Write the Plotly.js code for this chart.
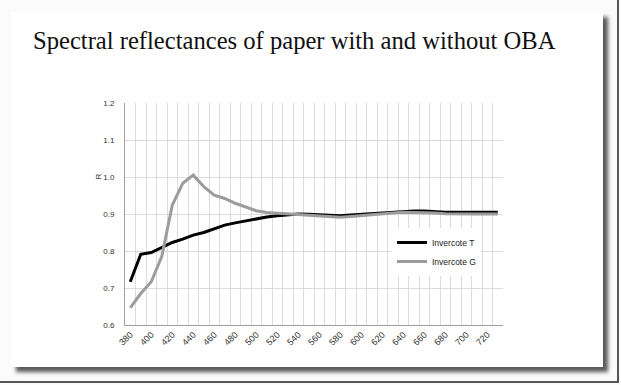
<!DOCTYPE html>
<html>
<head>
<meta charset="utf-8">
<script src="https://cdn.plot.ly/plotly-3.0.1.min.js"></script>
<style>
  html, body { margin: 0; padding: 0; background: #ffffff; }
  #wrap { position: relative; width: 621px; height: 385px; overflow: hidden; background: #fbfbfb; }
  #card { position: absolute; left: 11px; top: 12px; width: 592px; height: 355px; background: #ffffff;
          box-shadow: 5px 5px 4px rgba(0,0,0,0.65); }
  #edgeR { position: absolute; left: 617px; top: 0; width: 2px; height: 383px; background: #555; }
  #edgeB { position: absolute; left: 0; top: 381px; width: 619px; height: 2px; background: #555; }
  #chart { position: absolute; left: 0; top: 0; width: 621px; height: 385px; }
</style>
</head>
<body>
<div id="wrap">
  <div id="card"></div>
  <div id="edgeR"></div>
  <div id="edgeB"></div>
  <div id="chart"></div>
</div>
<script>
const wavelengths = [380,390,400,410,420,430,440,450,460,470,480,490,500,510,520,530,540,550,560,570,580,590,600,610,620,630,640,650,660,670,680,690,700,710,720,730];
const invercoteT = [0.717,0.791,0.796,0.809,0.823,0.832,0.843,0.850,0.861,0.870,0.876,0.882,0.888,0.892,0.895,0.898,0.900,0.899,0.898,0.896,0.895,0.897,0.899,0.902,0.904,0.906,0.907,0.908,0.908,0.906,0.905,0.905,0.905,0.905,0.905,0.905];
const invercoteG = [0.646,0.685,0.717,0.785,0.924,0.983,1.005,0.974,0.951,0.942,0.929,0.918,0.909,0.904,0.902,0.901,0.900,0.898,0.895,0.893,0.891,0.893,0.896,0.899,0.901,0.903,0.905,0.905,0.905,0.903,0.901,0.900,0.900,0.900,0.900,0.900];
const xTickVals = [380,400,420,440,460,480,500,520,540,560,580,600,620,640,660,680,700,720];
const yTickVals = [0.6,0.7,0.8,0.9,1.0,1.1,1.2];
const yTickText = ["0.6","0.7","0.8","0.9","1.0","1.1","1.2"];
const gridX = [];
for (let i = 0; i <= wavelengths.length; i++) gridX.push(375 + 10 * i);

const traces = [
  { x: wavelengths, y: invercoteT, type: 'scatter', mode: 'lines', name: 'Invercote T',
    line: { color: '#000000', width: 3 } },
  { x: wavelengths, y: invercoteG, type: 'scatter', mode: 'lines', name: 'Invercote G',
    line: { color: '#9c9c9c', width: 3 } }
];

const layout = {
  width: 621, height: 385,
  margin: { l: 125, r: 118, t: 103, b: 60 },
  paper_bgcolor: 'rgba(0,0,0,0)',
  plot_bgcolor: '#ffffff',
  showlegend: true,
  title: {
    text: 'Spectral reflectances of paper with and without OBA',
    font: { family: 'Liberation Serif', size: 24.6, color: '#111111' },
    x: 33 / 621, xanchor: 'left', xref: 'container',
    y: 1 - 40 / 385, yanchor: 'middle', yref: 'container'
  },
  xaxis: {
    range: [375, 735],
    tickvals: xTickVals,
    ticktext: xTickVals.map(String),
    tickangle: -45,
    tickfont: { family: 'Liberation Sans', size: 9, color: '#333333' },
    showgrid: false,
    showline: true, linecolor: '#a0a0a0', linewidth: 1,
    ticks: '', zeroline: false,
    minor: { tickvals: gridX, showgrid: true, gridcolor: '#dcdcdc', gridwidth: 1, ticks: '' }
  },
  yaxis: {
    range: [0.6, 1.2],
    tickvals: yTickVals,
    ticktext: yTickText,
    tickfont: { family: 'Liberation Sans', size: 8, color: '#333333' },
    showgrid: true, gridcolor: '#dcdcdc', gridwidth: 1,
    showline: true, linecolor: '#a0a0a0', linewidth: 1,
    ticks: '', zeroline: false,
    ticklabelstandoff: 8
  },
  legend: {
    x: (392 - 125) / 378, y: (325 - 228) / 222, xanchor: 'left', yanchor: 'top',
    bgcolor: '#ffffff', borderwidth: 0,
    font: { family: 'Liberation Sans', size: 8.5, color: '#222222' },
    itemwidth: 30, tracegroupgap: 0
  },
  annotations: [
    { text: 'R', textangle: -90, xref: 'paper', yref: 'y', x: (91 - 125) / 378, y: 1.0,
      showarrow: false, font: { family: 'Liberation Sans', size: 8, color: '#333333' } }
  ]
};

Plotly.newPlot('chart', traces, layout, { staticPlot: true, displayModeBar: false });
</script>
</body>
</html>
